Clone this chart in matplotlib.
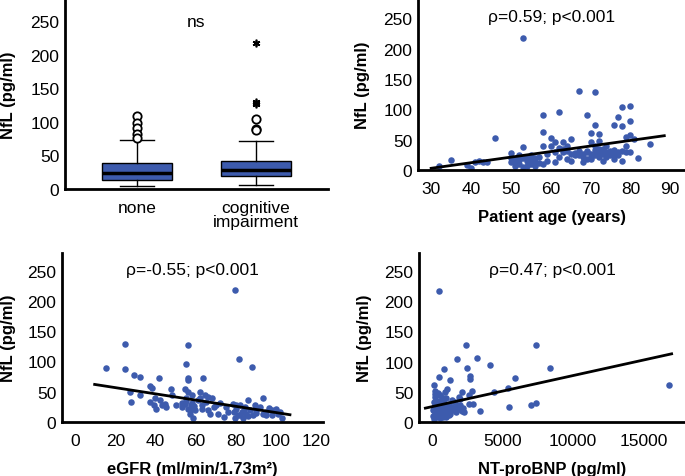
import numpy as np
import matplotlib.pyplot as plt

plt.rcParams['font.family'] = ['Liberation Sans', 'DejaVu Sans']

BLUE = '#3d5bad'

# --- box plot: NfL by cognitive status (stats) ---
groups = ['none', 'cognitive\nimpairment']
q1 = [13.8, 19.3]
med = [23.8, 27.8]
q3 = [38, 42]
whislo = [4.5, 6]
whishi = [73.4, 71.4]
circles = [[108, 99, 91, 82, 75.5], [105, 90, 88]]
extremes = [[], [218, 130, 127]]

# --- NfL vs age ---
age = [32, 35, 39, 40, 41, 42, 43, 44, 46,
       50, 50, 51, 51, 52, 52, 53, 53, 53, 54, 54, 55, 55, 55, 56, 56, 57, 58, 51, 52, 53, 54, 56, 57, 50,
       58, 58, 58, 59, 59, 60, 60, 61, 61, 62, 62, 62, 63, 63, 64, 64, 65, 65, 65, 66, 61, 63, 64, 66,
       67, 67, 68, 68, 69, 69, 69, 70, 70, 70, 71, 71, 71, 71, 72, 72, 72, 72, 73, 73, 74, 74, 75, 75,
       76, 76, 77, 77, 77, 78, 78, 78, 78, 79, 79, 80, 80, 80, 80, 81, 82, 85,
       68, 69, 70, 71, 73, 74, 75, 76, 79, 67, 70, 72, 76]
age_nfl = [7, 17, 9, 4, 14, 15, 13, 14, 52,
           28, 13, 7, 18, 24, 10, 38, 218, 19, 7, 15, 24, 10, 18, 7, 14, 21, 10, 11, 16, 5, 21, 19, 12, 20,
           91, 62, 40, 26, 15, 40, 52, 46, 13, 96, 37, 21, 46, 29, 18, 40, 26, 15, 51, 24, 30, 35, 31, 28,
           130, 32, 21, 13, 29, 18, 91, 26, 46, 61, 40, 24, 128, 74, 48, 29, 59, 21, 35, 15, 29, 40, 24, 32,
           18, 74, 29, 24, 88, 73, 32, 15, 104, 54, 40, 106, 80, 57, 29, 51, 20, 43,
           27, 31, 22, 33, 27, 22, 30, 33, 30, 25, 18, 34, 26]
age_fit = (0.918, -24.7)
age_range = (30, 88.5)

# --- NfL vs eGFR ---
egfr = [15, 24.5, 24.5, 27, 27.5, 29, 32, 32, 37, 38, 37, 39, 39.5, 40, 41.5, 42, 43, 44.5, 45, 47.5, 48,
        50, 53, 54.5, 55, 56, 56, 56, 56, 55, 54.5, 56, 57, 57.5, 58, 58.7, 59.5, 55, 57, 58, 53, 59,
        62, 62, 63, 63.7, 64.5, 65, 66, 67, 68, 69, 70, 71, 72, 74, 75, 76, 63, 66, 61,
        78.7, 79.5, 79.5, 80, 81, 81.7, 82, 83, 83.7, 84.5, 85, 86, 87, 88.3, 88.7, 89.5, 90, 92, 93.3,
        93.7, 95, 96.7, 98, 100, 101, 102, 102.8, 79, 80, 82, 84, 86, 90, 95, 98]
egfr_nfl = [89, 128, 87, 50, 33, 78, 74, 45, 60, 56, 33, 28, 39, 22, 72, 36, 28, 30, 25, 54, 44,
            28, 25, 55, 95, 127, 73, 69, 50, 39, 30, 22, 14, 28, 44, 6, 19, 34, 20, 32, 32, 26,
            50, 39, 28, 73, 44, 33, 41, 14, 39, 25, 28, 14, 32, 8, 25, 17, 22, 20, 36,
            30, 218, 6, 22, 11, 104, 28, 17, 6, 25, 14, 36, 19, 90, 11, 28, 19, 25, 40,
            14, 17, 23, 11, 21, 14, 17, 6, 16, 28, 12, 20, 10, 15, 12, 20]
egfr_fit = (-0.513, 66.9)
egfr_range = (9.5, 107)

# --- NfL vs NT-proBNP ---
bnp = [520, 120, 240, 350, 470, 470, 590, 590, 710, 830, 945, 1060, 1060, 1180, 1300, 1420, 1535,
       1770, 1890, 2010, 2130, 2240, 2390, 2480, 2600, 2670, 2720, 2600, 2830, 2910, 3190, 3380,
       4130, 4370, 5430, 5360, 5910, 7020, 7390, 7390, 8340, 16820,
       100, 150, 200, 250, 300, 350, 400, 450, 500, 550, 600, 650, 700, 750, 800, 850, 900, 950,
       1000, 1100, 1200, 1300, 1400, 1500, 1600, 1700, 1800, 1900, 2000, 2100, 2200,
       200, 300, 400, 600, 150, 250, 350, 700, 800, 1000, 1200, 80, 120, 180]
bnp_nfl = [217, 61, 52, 44, 75, 33, 17, 6, 39, 87, 50, 54, 28, 11, 69, 36, 22,
           104, 41, 28, 50, 17, 127, 89, 44, 72, 77, 30, 51, 30, 106, 19,
           95, 50, 25, 57, 73, 28, 128, 31, 89, 61,
           10, 25, 15, 30, 8, 20, 12, 26, 18, 35, 22, 13, 28, 9, 19, 32, 15, 24,
           40, 18, 30, 14, 25, 20, 33, 16, 27, 21, 38, 19, 24,
           42, 35, 48, 45, 5, 14, 28, 12, 40, 9, 22, 20, 33, 47]
bnp_fit = (0.00515, 25.4)
bnp_range = (-470, 17000)

W, H = 685, 477
fig = plt.figure(figsize=(W / 100, H / 100), dpi=100)


def make_ax(left, right, bottom, top, label_x):
    ax = fig.add_axes([left / W, 1 - bottom / H, (right - left) / W, (bottom - top) / H])
    for s in ['top', 'right']:
        ax.spines[s].set_visible(False)
    for s in ['left', 'bottom']:
        ax.spines[s].set_linewidth(2)
    ax.tick_params(length=0, labelsize=12.5)
    ax.tick_params(axis='y', pad=4)
    ax.tick_params(axis='x', pad=8)
    ax.set_yticks([0, 50, 100, 150, 200, 250])
    ax.set_ylabel('NfL (pg/ml)', fontsize=12, fontweight='bold')
    # label_x: pixel where the rotated label's right edge sits
    ax.yaxis.set_label_coords((label_x - left) / (right - left), 0.5)
    return ax


# top left: box plot
ax1 = make_ax(65, 328, 190, 0, 16)
stats = []
for i in range(2):
    stats.append(dict(med=med[i], q1=q1[i], q3=q3[i], whislo=whislo[i], whishi=whishi[i],
                      fliers=circles[i]))
ax1.bxp(stats, positions=[1, 2], widths=0.59, patch_artist=True,
        boxprops=dict(facecolor=BLUE, edgecolor='black', linewidth=1),
        medianprops=dict(color='black', linewidth=2.5),
        whiskerprops=dict(color='black', linewidth=1),
        capprops=dict(color='black', linewidth=1), capwidths=0.29,
        flierprops=dict(marker='o', markerfacecolor='white', markeredgecolor='black',
                        markersize=6, markeredgewidth=1.3))
for i, ext in enumerate(extremes):
    if ext:
        ax1.plot([i + 1] * len(ext), ext, linestyle='none', marker=(6, 2, 0),
                 color='black', markersize=5.5, markeredgewidth=1.2)
ax1.set_xlim(0.395, 2.605)
ax1.set_ylim(0, 283)
ax1.set_xticks([1, 2])
ax1.set_xticklabels(groups, fontsize=12.5, linespacing=0.88)
ax1.text(1.5, 250, 'ns', ha='center', va='center', fontsize=12.5)


def scatter_panel(ax, x, y, fit, rng, xlim, ylim, xlabel, note, xticks):
    ax.scatter(x, y, s=22, color=BLUE, linewidths=0, zorder=2)
    xs = np.array(rng)
    ax.plot(xs, fit[0] * xs + fit[1], color='black', linewidth=2, zorder=3)
    ax.set_xlim(*xlim)
    ax.set_ylim(*ylim)
    ax.set_xticks(xticks)
    ax.set_xlabel(xlabel, fontsize=12, fontweight='bold', labelpad=9)
    ax.text(0.5, 0.9, note, transform=ax.transAxes, ha='center', va='center', fontsize=12.5)


ax2 = make_ax(418, 685, 171, 0, 370)
scatter_panel(ax2, age, age_nfl, age_fit, age_range, (26.7, 93.7), (0, 282),
              'Patient age (years)', 'ρ=0.59; p<0.001', [30, 40, 50, 60, 70, 80, 90])

ax3 = make_ax(62, 323, 423, 254, 16)
scatter_panel(ax3, egfr, egfr_nfl, egfr_fit, egfr_range, (-6.8, 123.5), (0, 279),
              'eGFR (ml/min/1.73m²)', 'ρ=-0.55; p<0.001', [0, 20, 40, 60, 80, 100, 120])

ax4 = make_ax(419, 685, 423, 254, 372)
scatter_panel(ax4, bnp, bnp_nfl, bnp_fit, bnp_range, (-921, 17950), (0, 280),
              'NT-proBNP (pg/ml)', 'ρ=0.47; p<0.001', [0, 5000, 10000, 15000])

fig.savefig('out.png', dpi=100)
